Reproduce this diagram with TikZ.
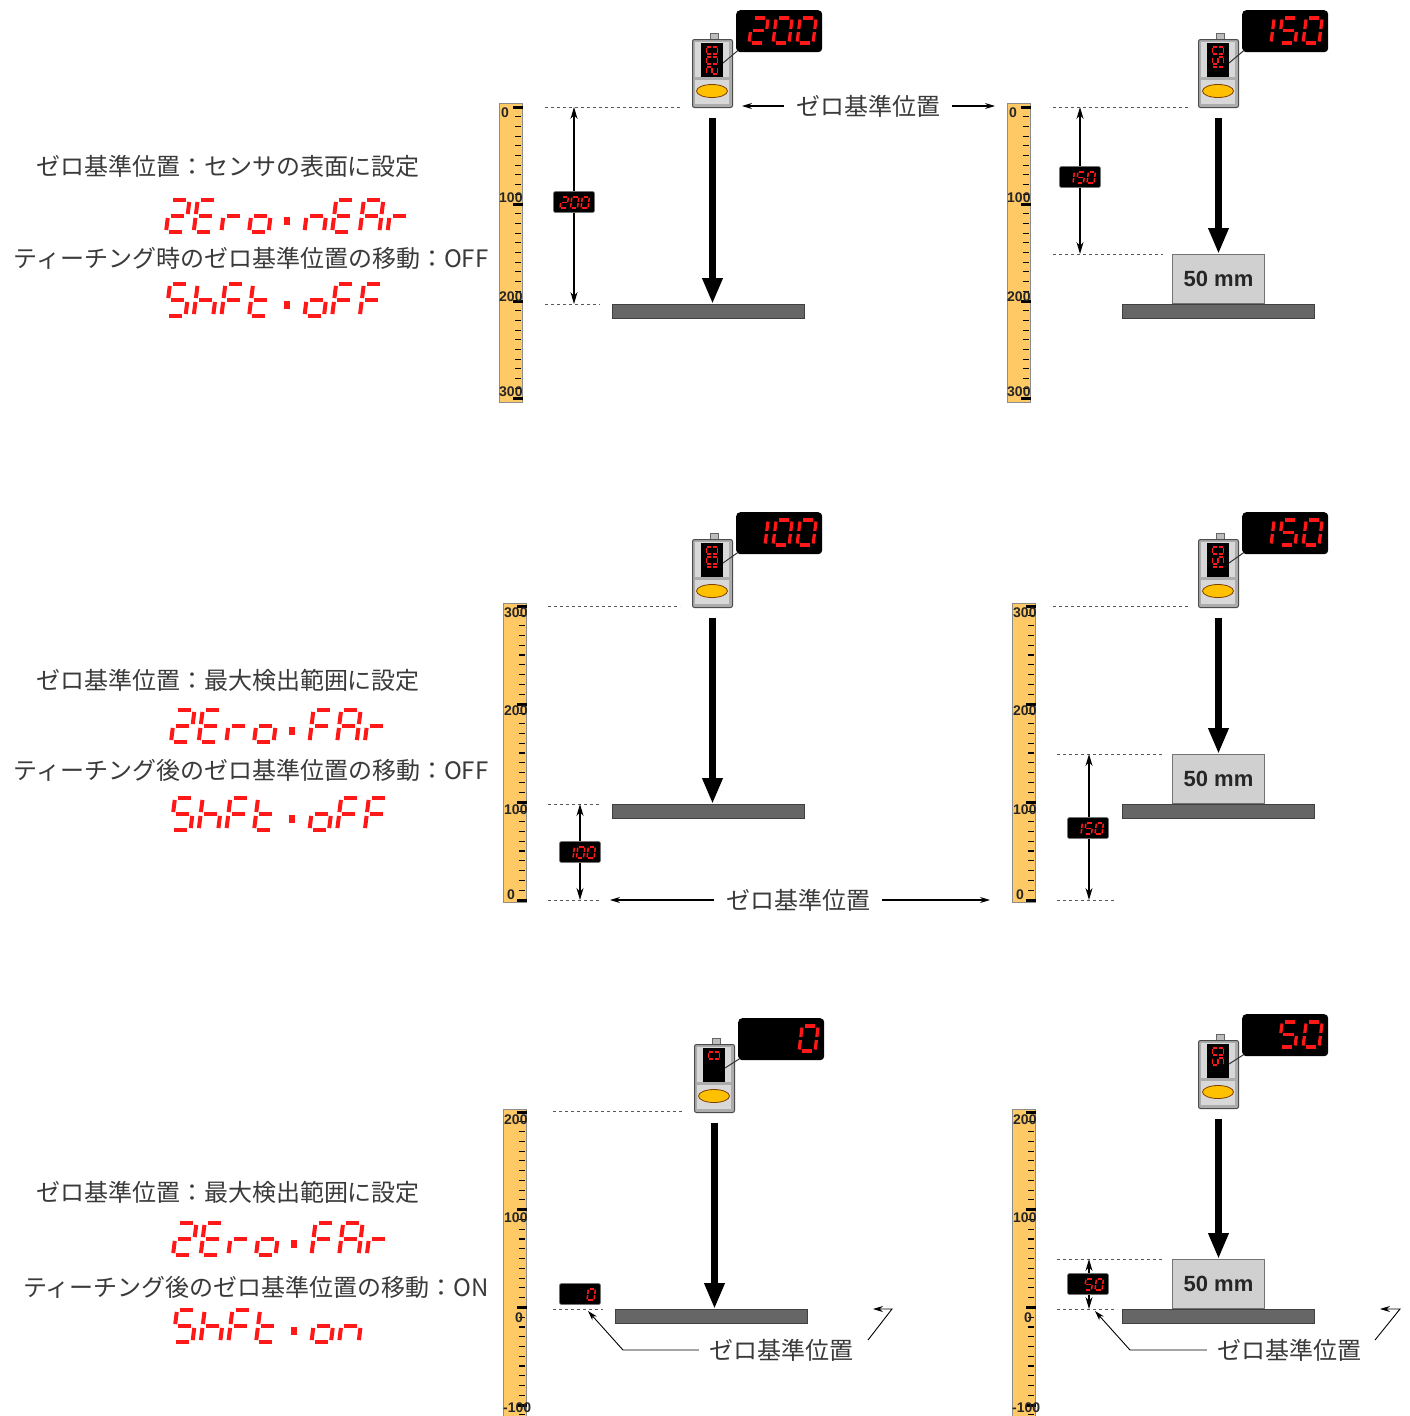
\documentclass[tikz,border=0pt]{standalone}
\usepackage{fontspec}
\setmainfont{Liberation Sans}
\newfontfamily\jpfont{Noto Sans CJK JP}
\usetikzlibrary{arrows.meta}

\definecolor{segred}{RGB}{255,24,24}
\definecolor{rulerfill}{RGB}{255,201,102}
\definecolor{inkgray}{RGB}{58,58,58}
\definecolor{platefill}{RGB}{102,102,102}
\definecolor{blockfill}{RGB}{208,208,208}
\definecolor{bodygray}{RGB}{172,172,172}
\definecolor{panelgray}{RGB}{216,216,216}
\definecolor{lensorange}{RGB}{255,192,0}

% seven-segment glyph table (segments a..g, p/q = small equals bars)
\newcommand\defglyph[2]{\expandafter\def\csname gl#1\endcsname{#2}}
\defglyph{0}{a,b,c,d,e,f}
\defglyph{1}{b,c}
\defglyph{2}{a,b,g,e,d}
\defglyph{5}{a,f,g,c,d}
\defglyph{E}{a,f,g,e,d}
\defglyph{r}{e,g}
\defglyph{o}{c,d,e,g}
\defglyph{n}{c,e,g}
\defglyph{A}{a,b,c,e,f,g}
\defglyph{h}{c,e,f,g}
\defglyph{F}{a,e,f,g}
\defglyph{t}{d,e,f,g}
\defglyph{eq}{p,q}
\defglyph{sp}{}

% #1 size style, #2 origin, #3 pitch (local units), #4 glyph list
\newcommand\segtext[4]{%
  \begin{scope}[shift={#2},#1]
    \foreach \gch [count=\i from 0] in {#4}{%
      \edef\seglist{\csname gl\gch\endcsname}%
      \ifx\seglist\empty\else
        \foreach \sgm in \seglist{%
          \edef\segcmd{\noexpand\draw[segstroke,shift={(\i*#3,0)},sg\sgm];}%
          \segcmd}%
      \fi}%
  \end{scope}}

\tikzset{
  segstroke/.style={draw=segred,line cap=butt},
  sga/.style={insert path={(0.17,2)--(0.83,2)}},
  sgb/.style={insert path={(1,1.88)--(1,1.12)}},
  sgc/.style={insert path={(1,0.88)--(1,0.12)}},
  sgd/.style={insert path={(0.17,0)--(0.83,0)}},
  sge/.style={insert path={(0,0.12)--(0,0.88)}},
  sgf/.style={insert path={(0,1.12)--(0,1.88)}},
  sgg/.style={insert path={(0.17,1)--(0.83,1)}},
  sgp/.style={insert path={(0.3,0.56)--(0.62,0.56)}},
  sgq/.style={insert path={(0.3,0.82)--(0.62,0.82)}},
  segbig/.style={x={(19.5pt,0pt)},y={(2pt,16pt)},line width=4pt},
  segdisp/.style={shift={(13,33)},x={(16pt,0pt)},y={(1.6pt,12.5pt)},line width=3.2pt},
  segmini/.style={shift={(-14,6)},x={(7pt,0pt)},y={(0.7pt,5.5pt)},line width=1.5pt},
  segwin/.style={shift={(25.5,35)},rotate=90,x={(7pt,0pt)},y={(0pt,5.5pt)},line width=1.4pt},
  jptext/.style={font=\jpfont\fontsize{24}{28}\selectfont,text=inkgray,inner sep=0pt},
  jplabel/.style={jptext,inner xsep=12pt},
  rulerbody/.style={fill=rulerfill,draw=black!45,line width=1pt},
  rulerlabel/.style={font=\bfseries\fontsize{14}{16}\selectfont,text=black!85,inner sep=0pt},
  guide/.style={draw=black!65,dash pattern=on 3pt off 3pt,line width=1pt},
  plate/.style={fill=platefill,draw=black!75,line width=1pt,anchor=north west,
    minimum width=192pt,minimum height=14pt,inner sep=0pt},
  workblock/.style={fill=blockfill,draw=black!55,line width=1pt,anchor=north west,
    minimum width=92pt,minimum height=49pt,inner sep=0pt,
    font=\bfseries\fontsize{22}{26}\selectfont,text=black!85},
  bigarrow/.style={line width=7.5pt,-{Triangle[length=26pt,width=19pt]}},
  dimarrow/.style={line width=1.3pt,{Stealth[length=12pt,width=7pt]}-{Stealth[length=12pt,width=7pt]}},
  ptr/.style={line width=1.1pt,-{Stealth[length=10pt,width=6pt]}},
  leader/.style={draw=black!80,line width=1pt},
  sensorbody/.style={fill=bodygray,draw=black!70,line width=1pt,rounded corners=2pt,
    minimum width=40pt,minimum height=68pt,inner sep=0pt},
  nubstyle/.style={fill=bodygray!80,draw=black!60,line width=0.8pt},
  lens/.style={fill=lensorange,draw=black!50!orange,line width=0.8pt},
  readoutbox/.style={fill=black,rounded corners=4pt,minimum width=86pt,
    minimum height=42pt,inner sep=0pt},
  minibox/.style={fill=black,draw=black!55,line width=0.6pt,rounded corners=2pt,
    minimum width=41pt,minimum height=21pt,inner sep=0pt},
}

% sensor head: name, x, y (top-left of body), window glyphs
\newcommand\sensorhead[4]{%
  \begin{scope}[shift={(#2,#3)}]
    \draw[nubstyle] (18,-6) rectangle (26,0);
    \node[sensorbody,anchor=north west] (#1) at (0,0) {};
    \fill[panelgray] (3,3) rectangle (37,38);
    \fill[black] (9,4) rectangle (31,38);
    \fill[panelgray] (3,41) rectangle (37,65);
    \draw[lens] (20,52) ellipse [x radius=15.5,y radius=6.5];
    \coordinate (#1w) at (31,24);
  \end{scope}
  \segtext{segwin}{(#1.north west)}{1.43}{#4}}

% large readout: name, x, y (top-left), glyphs
\newcommand\readout[4]{%
  \node[readoutbox,anchor=north west] (#1) at (#2,#3) {};
  \segtext{segdisp}{(#1.north west)}{1.5}{#4}}

% small readout: name, x, y (centre), glyphs
\newcommand\minireadout[4]{%
  \node[minibox] (#1) at (#2,#3) {};
  \segtext{segmini}{(#1)}{1.5}{#4}}

% ruler: x left, y top, y bottom, first mark, mark step, number of steps
\newcommand\rulerstrip[6]{%
  \draw[rulerbody] (#1,#2) rectangle ({#1+23.5},#3);
  \foreach \k in {0,...,#6}{%
    \pgfmathsetmacro\ty{#4+\k*#5}%
    \pgfmathtruncatemacro\km{mod(\k,10)}%
    \ifnum\km=0
      \draw[line width=3pt] ({#1+14},\ty) -- ({#1+23.5},\ty);
    \else
      \draw[line width=1.1pt] ({#1+16},\ty) -- ({#1+21.5},\ty);
    \fi}}

\begin{document}
\begin{tikzpicture}[x=1pt,y=-1pt]
\useasboundingbox (0,0) rectangle (1410,1416);
\clip (0,0) rectangle (1410,1416);
\fill[white] (0,0) rectangle (1410,1416);

% ---------------- settings text ----------------
\node[jptext] (t1a) at (228,166) {ゼロ基準位置：センサの表面に設定};
\node[jptext] (t1b) at (251,258) {ティーチング時のゼロ基準位置の移動：OFF};
\node[jptext] (t2a) at (228,680) {ゼロ基準位置：最大検出範囲に設定};
\node[jptext] (t2b) at (251,770) {ティーチング後のゼロ基準位置の移動：OFF};
\node[jptext] (t3a) at (228,1192) {ゼロ基準位置：最大検出範囲に設定};
\node[jptext] (t3b) at (256,1287) {ティーチング後のゼロ基準位置の移動：ON};

\segtext{segbig}{(166,232)}{1.42}{2,E,r,o,eq,n,E,A,r}
\segtext{segbig}{(166,316)}{1.42}{5,h,F,t,eq,o,F,F}
\segtext{segbig}{(171,742)}{1.42}{2,E,r,o,eq,F,A,r}
\segtext{segbig}{(171,830)}{1.42}{5,h,F,t,eq,o,F,F}
\segtext{segbig}{(173,1255)}{1.42}{2,E,r,o,eq,F,A,r}
\segtext{segbig}{(173,1342)}{1.42}{5,h,F,t,eq,o,n}

% ---------------- row 1 ----------------
\rulerstrip{499}{103}{402}{107}{9.7}{30}
\node[rulerlabel,anchor=west] at (501,113) {0};
\node[rulerlabel,anchor=west] at (499,198) {100};
\node[rulerlabel,anchor=west] at (499,297) {200};
\node[rulerlabel,anchor=west] at (499,392) {300};
\rulerstrip{1007}{103}{402}{107}{9.7}{30}
\node[rulerlabel,anchor=west] at (1009,113) {0};
\node[rulerlabel,anchor=west] at (1007,198) {100};
\node[rulerlabel,anchor=west] at (1007,297) {200};
\node[rulerlabel,anchor=west] at (1007,392) {300};

\draw[guide] (545,107) -- (680,107);
\draw[guide] (545,304) -- (600,304);
\draw[guide] (1053,107) -- (1190,107);
\draw[guide] (1053,254) -- (1163,254);

\node[plate] (f1) at (612,304) {};
\node[plate] (f2) at (1122,304) {};
\node[workblock] (b2) at (1172,254) {50 mm};

\sensorhead{s1}{692}{39}{2,0,0}
\readout{d1}{736}{10}{2,0,0}
\draw[leader] (s1w) -- ([shift={(2,-2)}]d1.south west);
\sensorhead{s2}{1198}{39}{1,5,0}
\readout{d2}{1242}{10}{1,5,0}
\draw[leader] (s2w) -- ([shift={(2,-2)}]d2.south west);

\draw[bigarrow] ([yshift=-10pt]s1.south) -- (s1.south |- f1.north);
\draw[bigarrow] ([yshift=-10pt]s2.south) -- (s2.south |- b2.north);

\coordinate (a1t) at (574,107); \coordinate (a1b) at (574,304);
\draw[dimarrow] (a1t) -- (a1b);
\minireadout{m1}{574}{202}{2,0,0}
\coordinate (a2t) at (1080,107); \coordinate (a2b) at (1080,254);
\draw[dimarrow] (a2t) -- (a2b);
\minireadout{m2}{1080}{177}{1,5,0}

\node[jplabel] (z1) at (868,106) {ゼロ基準位置};
\coordinate (z1l) at (742,106); \coordinate (z1r) at (995,106);
\draw[ptr] (z1.west) -- (z1l);
\draw[ptr] (z1.east) -- (z1r);

% ---------------- row 2 ----------------
\rulerstrip{503}{603}{902}{606}{9.8}{30}
\node[rulerlabel,anchor=west] at (504,613) {300};
\node[rulerlabel,anchor=west] at (504,711) {200};
\node[rulerlabel,anchor=west] at (504,810) {100};
\node[rulerlabel,anchor=west] at (507,895) {0};
\rulerstrip{1012}{603}{902}{606}{9.8}{30}
\node[rulerlabel,anchor=west] at (1013,613) {300};
\node[rulerlabel,anchor=west] at (1013,711) {200};
\node[rulerlabel,anchor=west] at (1013,810) {100};
\node[rulerlabel,anchor=west] at (1016,895) {0};

\draw[guide] (548,606) -- (680,606);
\draw[guide] (548,804) -- (600,804);
\draw[guide] (548,900) -- (600,900);
\draw[guide] (1053,606) -- (1190,606);
\draw[guide] (1057,754) -- (1163,754);
\draw[guide] (1057,900) -- (1115,900);

\node[plate] (f3) at (612,804) {};
\node[plate] (f4) at (1122,804) {};
\node[workblock] (b4) at (1172,754) {50 mm};

\sensorhead{s3}{692}{539}{1,0,0}
\readout{d3}{736}{512}{1,0,0}
\draw[leader] (s3w) -- ([shift={(2,-2)}]d3.south west);
\sensorhead{s4}{1198}{539}{1,5,0}
\readout{d4}{1242}{512}{1,5,0}
\draw[leader] (s4w) -- ([shift={(2,-2)}]d4.south west);

\draw[bigarrow] ([yshift=-10pt]s3.south) -- (s3.south |- f3.north);
\draw[bigarrow] ([yshift=-10pt]s4.south) -- (s4.south |- b4.north);

\coordinate (a3t) at (580,804); \coordinate (a3b) at (580,900);
\draw[dimarrow] (a3t) -- (a3b);
\minireadout{m3}{580}{852}{1,0,0}
\coordinate (a4t) at (1089,754); \coordinate (a4b) at (1089,900);
\draw[dimarrow] (a4t) -- (a4b);
\minireadout{m4}{1088}{828}{1,5,0}

\node[jplabel] (z2) at (798,900) {ゼロ基準位置};
\coordinate (z2l) at (610,900); \coordinate (z2r) at (990,900);
\draw[ptr] (z2.west) -- (z2l);
\draw[ptr] (z2.east) -- (z2r);

% ---------------- row 3 ----------------
\rulerstrip{503}{1109}{1440}{1112}{9.77}{32}
\node[rulerlabel,anchor=west] at (504,1120) {200};
\node[rulerlabel,anchor=west] at (504,1218) {100};
\node[rulerlabel,anchor=west] at (515,1318) {0};
\node[rulerlabel,anchor=west] at (503,1408) {-100};
\rulerstrip{1012}{1109}{1440}{1112}{9.77}{32}
\node[rulerlabel,anchor=west] at (1013,1120) {200};
\node[rulerlabel,anchor=west] at (1013,1218) {100};
\node[rulerlabel,anchor=west] at (1024,1318) {0};
\node[rulerlabel,anchor=west] at (1012,1408) {-100};

\draw[guide] (553,1111) -- (683,1111);
\draw[guide] (553,1309) -- (603,1309);
\draw[guide] (1057,1259) -- (1163,1259);
\draw[guide] (1057,1309) -- (1117,1309);

\node[plate] (f5) at (615,1309) {};
\node[plate] (f6) at (1122,1309) {};
\node[workblock] (b6) at (1172,1259) {50 mm};

\sensorhead{s5}{694}{1044}{sp,sp,0}
\readout{d5}{738}{1018}{sp,sp,0}
\draw[leader] (s5w) -- ([shift={(2,-2)}]d5.south west);
\sensorhead{s6}{1198}{1040}{sp,5,0}
\readout{d6}{1242}{1014}{sp,5,0}
\draw[leader] (s6w) -- ([shift={(2,-2)}]d6.south west);

\draw[bigarrow] ([yshift=-10pt]s5.south) -- (s5.south |- f5.north);
\draw[bigarrow] ([yshift=-10pt]s6.south) -- (s6.south |- b6.north);

\minireadout{m5}{580}{1294}{sp,sp,0}
\coordinate (a6t) at (1089,1259); \coordinate (a6b) at (1089,1309);
\draw[dimarrow] (a6t) -- (a6b);
\minireadout{m6}{1088}{1284}{sp,5,0}

\node[jplabel,inner xsep=10pt] (z3) at (781,1350) {ゼロ基準位置};
\coordinate (z3k) at (623,1350); \coordinate (z3p) at (588,1311);
\draw[ptr,line width=0.9pt] (z3.west) -- (z3k) -- (z3p);
\coordinate (z3a) at (868,1340); \coordinate (z3b) at (892,1309); \coordinate (z3c) at (873,1309);
\draw[ptr,line width=0.9pt] (z3a) -- (z3b) -- (z3c);

\node[jplabel,inner xsep=10pt] (z4) at (1289,1350) {ゼロ基準位置};
\coordinate (z4k) at (1130,1350); \coordinate (z4p) at (1095,1311);
\draw[ptr,line width=0.9pt] (z4.west) -- (z4k) -- (z4p);
\coordinate (z4a) at (1375,1340); \coordinate (z4b) at (1400,1309); \coordinate (z4c) at (1380,1309);
\draw[ptr,line width=0.9pt] (z4a) -- (z4b) -- (z4c);
\end{tikzpicture}
\end{document}
